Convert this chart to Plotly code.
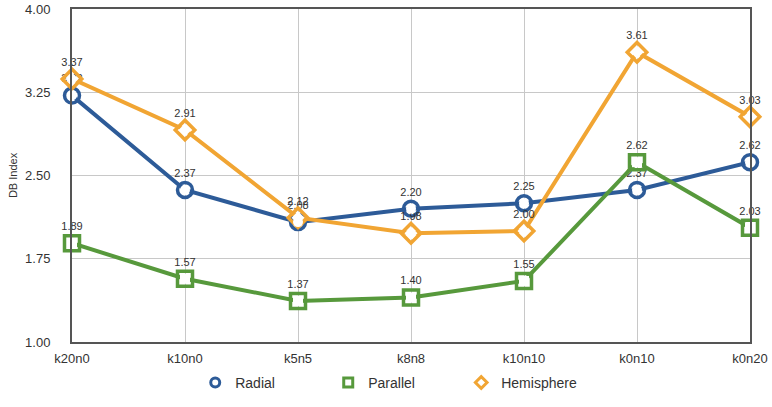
import plotly.graph_objects as go

categories = ["k20n0", "k10n0", "k5n5", "k8n8", "k10n10", "k0n10", "k0n20"]
radial = [3.22, 2.37, 2.08, 2.20, 2.25, 2.37, 2.62]
parallel = [1.89, 1.57, 1.37, 1.40, 1.55, 2.62, 2.03]
hemisphere = [3.37, 2.91, 2.12, 1.98, 2.00, 3.61, 3.03]
y_ticks = [1.00, 1.75, 2.50, 3.25, 4.00]

series = [
    ("Radial", radial, "#2d5b98", "circle-open"),
    ("Parallel", parallel, "#57993c", "square-open"),
    ("Hemisphere", hemisphere, "#f1a533", "diamond-open"),
]

fig = go.Figure()
for name, vals, color, sym in series:
    fig.add_trace(go.Scatter(
        x=categories, y=vals, name=name, showlegend=False,
        mode="lines+markers+text",
        line=dict(color=color, width=4),
        marker=dict(symbol=sym, size=15, color=color, line=dict(color=color, width=3.5)),
        text=[f"{v:.2f}" for v in vals],
        textposition="top center",
        textfont=dict(size=11, color="#333333"),
        cliponaxis=False,
    ))

# white fill behind the open markers
for name, vals, color, sym in series:
    fig.add_trace(go.Scatter(
        x=categories, y=vals, mode="markers", showlegend=False, hoverinfo="skip",
        marker=dict(symbol=sym.replace("-open", ""), size=10, color="white"),
        cliponaxis=False,
    ))

# legend entries: symbol only
for name, vals, color, sym in series:
    fig.add_trace(go.Scatter(
        x=[None], y=[None], name=name, mode="markers", showlegend=True,
        marker=dict(symbol=sym, size=9, color=color, line=dict(color=color, width=3)),
    ))

fig.update_layout(
    width=772, height=407,
    margin=dict(l=72, r=22, t=9, b=65, autoexpand=False),
    paper_bgcolor="white", plot_bgcolor="white",
    font=dict(family="Liberation Sans, Arial, sans-serif", color="#333333", size=12),
    showlegend=True,
    legend=dict(orientation="h", x=0.476, xanchor="center", y=-0.123, yanchor="middle",
                font=dict(size=14), entrywidth=88, traceorder="normal"),
    xaxis=dict(range=[0, 6], showgrid=True, gridcolor="#c8c8c8", gridwidth=1,
               showline=True, linecolor="#555555", linewidth=2, mirror=True,
               ticks="", tickfont=dict(size=13), ticklabelstandoff=3),
    yaxis=dict(range=[1.0, 4.0], tickvals=y_ticks, ticktext=[f"{v:.2f}" for v in y_ticks],
               showgrid=True, gridcolor="#c8c8c8", gridwidth=1,
               showline=True, linecolor="#555555", linewidth=2, mirror=True,
               ticks="", tickfont=dict(size=13), zeroline=False, ticklabelstandoff=17,
               title=dict(text="DB Index", font=dict(size=11), standoff=5)),
)

fig.write_html("out.html")
